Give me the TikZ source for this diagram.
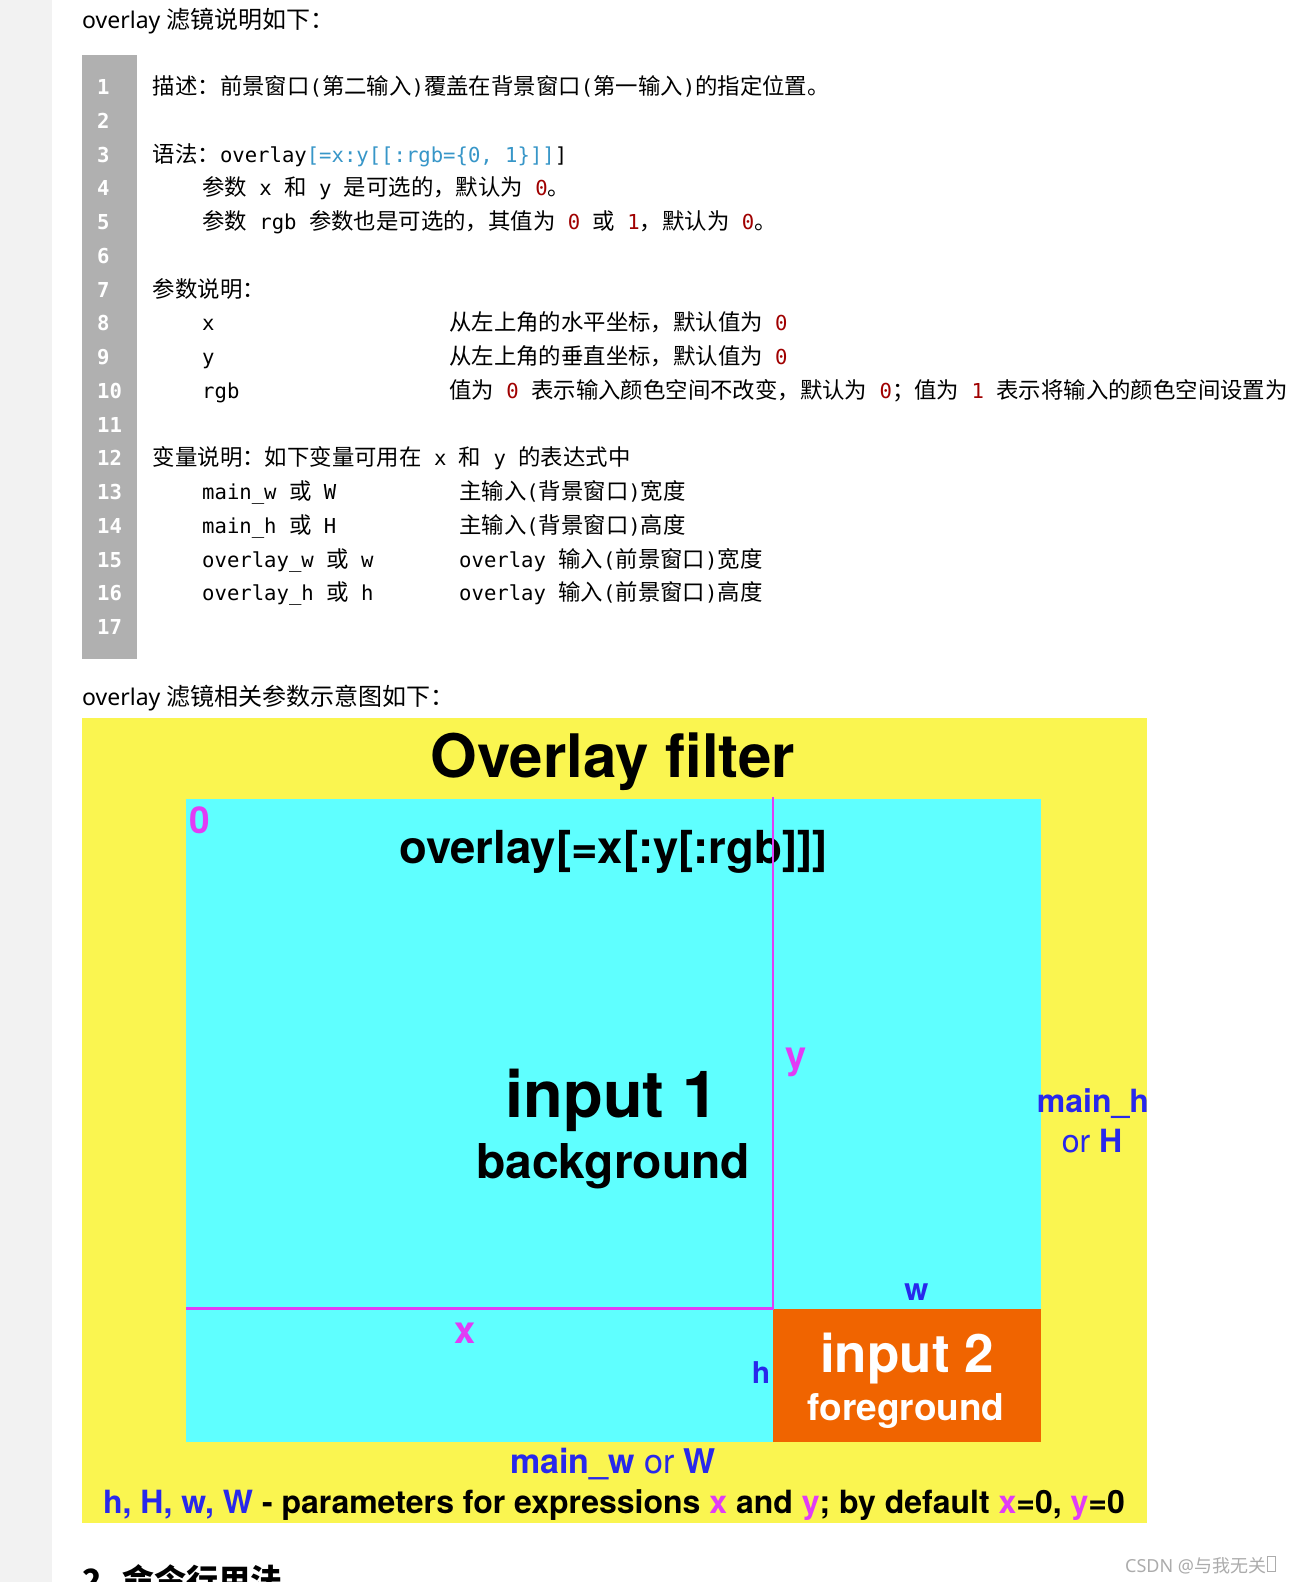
\documentclass[tikz,border=0pt]{standalone}
\usepackage{fontspec}
\setmainfont{Noto Sans}
\newfontfamily\zhf{Noto Sans CJK SC}
\newfontfamily\monof{DejaVu Sans Mono}
\newfontfamily\helv{TeX Gyre Heros}
\newfontfamily\latf{Noto Sans}
\newcommand\fsz[1]{\fontsize{#1}{#1}\selectfont}
\newcommand\zh[1]{{\zhf\fsz{22.4}#1}}
\newcommand\zhp[1]{{\zhf\fsz{24}#1}}
\definecolor{codered}{RGB}{160,0,0}
\definecolor{codeteal}{RGB}{55,150,200}
\definecolor{numgray}{RGB}{176,176,176}
\definecolor{stripgray}{RGB}{242,242,242}
\definecolor{yel}{RGB}{250,245,80}
\definecolor{cyn}{RGB}{95,255,255}
\definecolor{org}{RGB}{240,100,0}
\definecolor{mag}{RGB}{225,60,245}
\definecolor{blu}{RGB}{40,40,235}
\definecolor{wm}{RGB}{172,172,172}
\newcommand\rd[1]{\textcolor{codered}{#1}}
\newcommand\tl[1]{\textcolor{codeteal}{#1}}
\newcommand\mg[1]{\textcolor{mag}{#1}}
\newcommand\bl[1]{\textcolor{blu}{#1}}
\tikzset{
  codetxt/.style={anchor=base west, inner sep=0, font=\monof\fsz{20.6}},
  lnum/.style={anchor=base west, inner sep=0, text=white, font=\monof\bfseries\fsz{20.6}},
  prose/.style={anchor=base west, inner sep=0, font=\latf\fsz{23}},
  dg/.style={anchor=base, inner sep=0, font=\helv\bfseries},
  mline/.style={draw=mag, line width=2.6pt}
}
\begin{document}
\begin{tikzpicture}[x=1pt,y=-1pt]
\useasboundingbox (0,0) rectangle (1293,1582);
\fill[white] (0,0) rectangle (1293,1582);
\fill[stripgray] (0,0) rectangle (52,1582);
% intro text
\node[prose] (intro) at (82,28.5) {overlay \zhp{滤镜说明如下：}};
% code block
\fill[numgray] (82,55) rectangle (137,659);
\foreach \k in {1,...,17} {
  \node[lnum] (ln\k) at (97,{94.5+(\k-1)*33.75}) {\k};
}
\node[codetxt] (c1) at (152.6,94.5) {\zh{描述：前景窗口}(\zh{第二输入})\zh{覆盖在背景窗口}(\zh{第一输入})\zh{的指定位置。}};
\node[codetxt] (c3) at (152.6,162) {\zh{语法：}overlay\tl{[=x:y[[:rgb=\{0, 1\}]]}]};
\node[codetxt] (c4) at (202,195.75) {\zh{参数} x \zh{和} y \zh{是可选的，默认为} \rd{0}\zh{。}};
\node[codetxt] (c5) at (202,229.5) {\zh{参数} rgb \zh{参数也是可选的，其值为} \rd{0} \zh{或} \rd{1}\zh{，默认为} \rd{0}\zh{。}};
\node[codetxt] (c7) at (152.6,297) {\zh{参数说明：}};
\node[codetxt] (c8a) at (202,330.75) {x};
\node[codetxt] (c8b) at (449,330.75) {\zh{从左上角的水平坐标，默认值为} \rd{0}};
\node[codetxt] (c9a) at (202,364.5) {y};
\node[codetxt] (c9b) at (449,364.5) {\zh{从左上角的垂直坐标，默认值为} \rd{0}};
\node[codetxt] (c10a) at (202,398.25) {rgb};
\node[codetxt] (c10b) at (449,398.25) {\zh{值为} \rd{0} \zh{表示输入颜色空间不改变，默认为} \rd{0}\zh{；值为} \rd{1} \zh{表示将输入的颜色空间设置为}};
\node[codetxt] (c12) at (152.6,465.75) {\zh{变量说明：如下变量可用在} x \zh{和} y \zh{的表达式中}};
\node[codetxt] (c13a) at (202,499.5) {main\_w \zh{或} W};
\node[codetxt] (c13b) at (459,499.5) {\zh{主输入}(\zh{背景窗口})\zh{宽度}};
\node[codetxt] (c14a) at (202,533.25) {main\_h \zh{或} H};
\node[codetxt] (c14b) at (459,533.25) {\zh{主输入}(\zh{背景窗口})\zh{高度}};
\node[codetxt] (c15a) at (202,567) {overlay\_w \zh{或} w};
\node[codetxt] (c15b) at (459,567) {overlay \zh{输入}(\zh{前景窗口})\zh{宽度}};
\node[codetxt] (c16a) at (202,600.75) {overlay\_h \zh{或} h};
\node[codetxt] (c16b) at (459,600.75) {overlay \zh{输入}(\zh{前景窗口})\zh{高度}};
% caption
\node[prose] (caption) at (82,705.5) {overlay \zhp{滤镜相关参数示意图如下：}};
% diagram
\fill[yel] (82,718) rectangle (1147,1523);
\fill[cyn] (186,799) rectangle (1041,1442);
\fill[org] (773,1309) rectangle (1041,1442);
\begin{scope}
\clip (82,718) rectangle (1147,1523);
\node[dg] (title) at (613,777) {\fsz{60}Overlay filter};
\node[dg] (syntax) at (613.5,863) {\fsz{45.5}overlay[=x[:y[:rgb]]]};
\node[dg] (in1) at (612,1117) {\fsz{65}input 1};
\node[dg] (bg) at (613,1178) {\fsz{48}background};
\node[dg, text=mag] (zero) at (200,833) {\fsz{37}0};
\node[dg, text=mag] (ylab) at (796,1068) {\fsz{38}y};
\node[dg, text=mag] (xlab) at (465,1343) {\fsz{38}x};
\node[dg, text=blu] (wlab) at (916.5,1300) {\fsz{31}w};
\node[dg, text=blu] (hlab) at (761,1383) {\fsz{30}h};
\node[dg, text=blu] (mainh) at (1093,1112) {\fsz{32}main\_h};
\node[dg, text=blu] (orH) at (1092,1152) {\fsz{32}{\mdseries or} H};
\node[dg, text=blu] (mainw) at (613,1473) {\fsz{34}main\_w {\mdseries or} W};
\node[dg] (foot) at (614,1513) {\fsz{32}\bl{h, H, w, W} - parameters for expressions \mg{x} and \mg{y}; by default \mg{x}=0, \mg{y}=0};
\node[dg, text=white] (in2) at (907,1372) {\fsz{53}input 2};
\node[dg, text=white] (fg) at (906,1420) {\fsz{37}foreground};
\coordinate (vtop) at (773,797);
\coordinate (corner) at (773,1308.5);
\coordinate (hleft) at (186,1308.5);
\draw[mline] (vtop) -- (corner) -- (hleft);
\end{scope}
% heading and watermark
\node[anchor=base west, inner sep=0, font=\zhf\bfseries\fsz{32}] (head) at (82,1592) {2. 命令行用法};
\node[anchor=base west, inner sep=0, font=\latf\fsz{18}, text=wm] (mark) at (1125,1572) {CSDN @\zh{\fsz{18}与我无关}};
\draw[wm, line width=0.8pt] ([xshift=1.5pt]mark.base east) ++(0,-1) rectangle ++(8,-15);
\end{tikzpicture}
\end{document}
